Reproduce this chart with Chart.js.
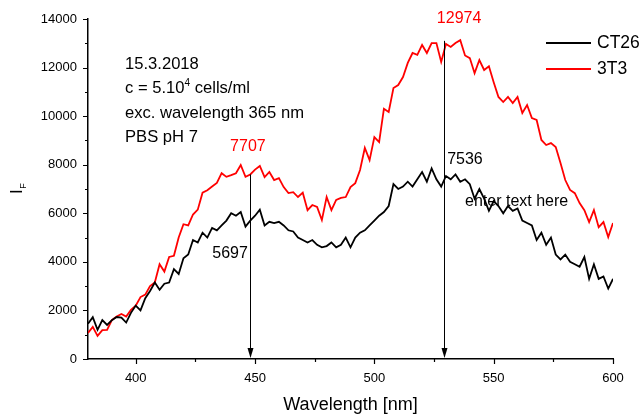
<!DOCTYPE html>
<html>
<head>
<meta charset="utf-8">
<script src="https://cdn.jsdelivr.net/npm/chart.js@4.4.0/dist/chart.umd.min.js"></script>
<style>
  body { margin: 0; background: #fff; }
  #wrap { width: 644px; height: 414px; }
</style>
</head>
<body>
<div id="wrap"><canvas id="chart-fluorescence" width="644" height="414"></canvas></div>
<script>
// wavelength in nm, intensity I_F
var wavelength = [
  380, 382, 384, 386, 388, 390, 392, 394, 396, 398,
  400, 402, 404, 406, 408, 410, 412, 414, 416, 418,
  420, 422, 424, 426, 428, 430, 432, 434, 436, 438,
  440, 442, 444, 446, 448, 450, 452, 454, 456, 458,
  460, 462, 464, 466, 468, 470, 472, 474, 476, 478,
  480, 482, 484, 486, 488, 490, 492, 494, 496, 498,
  500, 502, 504, 506, 508, 510, 512, 514, 516, 518,
  520, 522, 524, 526, 528, 530, 532, 534, 536, 538,
  540, 542, 544, 546, 548, 550, 552, 554, 556, 558,
  560, 562, 564, 566, 568, 570, 572, 574, 576, 578,
  580, 582, 584, 586, 588, 590, 592, 594, 596, 598,
  600
];
var ct26 = [
  1450, 1720, 1200, 1600, 1400, 1600, 1730, 1700, 1500, 1900,
  2200, 2000, 2500, 2800, 3150, 2850, 3100, 3150, 3700, 3500,
  4150, 4300, 4900, 4800, 5200, 5000, 5400, 5300, 5500, 5700,
  6000, 5900, 6050, 5450, 5697, 5900, 6150, 5500, 5650, 5600,
  5650, 5500, 5300, 5250, 5000, 4900, 4800, 4900, 4700, 4600,
  4650, 4800, 4600, 4700, 5000, 4600, 5000, 5200, 5300, 5500,
  5700, 5900, 6050, 6300, 7200, 7000, 7100, 7300, 7100, 7400,
  7700, 7300, 7850, 7400, 7100, 7536, 7400, 7600, 7300, 7400,
  7200, 6600, 7000, 6600, 6100, 6500, 6300, 6000, 6300, 6100,
  6200, 5700, 5600, 5500, 4900, 5200, 4700, 5000, 4300, 4100,
  4300, 4000, 3900, 3800, 4200, 3300, 3900, 3300, 3400, 2900,
  3300
];
var t3 = [
  1070, 1320, 950, 1190, 1200, 1600, 1750, 1850, 1750, 2020,
  2200, 2550, 2650, 3000, 3150, 3900, 3600, 4200, 4250, 5000,
  5550, 5500, 5950, 6150, 6850, 6950, 7100, 7250, 7650, 7500,
  7570, 7650, 7990, 7500, 7600, 7800, 7950, 7490, 7700, 7370,
  7450, 7080, 6830, 6870, 6670, 6850, 6130, 6340, 6260, 5720,
  6670, 6130, 6550, 6630, 6670, 7080, 7240, 7780, 8690, 8190,
  9140, 8930, 10300, 10170, 11160, 11280, 11610, 12190, 12600, 12520,
  12930, 12600, 13010, 13010, 12230, 12974, 12850, 13010, 13130, 12500,
  12390, 11770, 12310, 11900, 12050, 11400, 10790, 10580, 10790, 10540,
  10790, 10130, 10460, 9920, 9840, 9020, 8810, 8890, 8730, 8070,
  7370, 6960, 6830, 6420, 6130, 5640, 6130, 5430, 5640, 5020,
  5600
];

var xMajorTicks = [400, 450, 500, 550, 600];
var xMinorTicks = [425, 475, 525, 575];
var yMajorTicks = [0, 2000, 4000, 6000, 8000, 10000, 12000, 14000];
var yMinorTicks = [1000, 3000, 5000, 7000, 9000, 11000, 13000];

// peak markers: wavelength of arrow and value where it starts
var peakWavelength = [448, 529];
var peakStart = [7600, 13100];

var infoLines = ["15.3.2018", "c = 5.10|4| cells/ml", "exc. wavelength 365 nm", "PBS pH 7"];

var FONT = "'Liberation Sans', Arial, sans-serif";

function toPoints(xs, ys) {
  return xs.map(function (x, i) {
    return { x: x, y: ys[i] };
  });
}

var extras = {
  id: "extras",
  afterDraw: function (chart) {
    var c = chart.ctx;
    var sx = chart.scales.x;
    var sy = chart.scales.y;
    var area = chart.chartArea;
    c.save();

    // tick marks, pointing out
    c.strokeStyle = "#000";
    c.lineWidth = 1.2;
    c.beginPath();
    xMajorTicks.forEach(function (v) {
      var px = Math.round(sx.getPixelForValue(v)) + 0.5;
      c.moveTo(px, area.bottom);
      c.lineTo(px, area.bottom + 5);
    });
    xMinorTicks.forEach(function (v) {
      var px = Math.round(sx.getPixelForValue(v)) + 0.5;
      c.moveTo(px, area.bottom);
      c.lineTo(px, area.bottom + 3);
    });
    yMajorTicks.forEach(function (v) {
      var py = Math.round(sy.getPixelForValue(v)) + 0.5;
      c.moveTo(area.left, py);
      c.lineTo(area.left - 5, py);
    });
    yMinorTicks.forEach(function (v) {
      var py = Math.round(sy.getPixelForValue(v)) + 0.5;
      c.moveTo(area.left, py);
      c.lineTo(area.left - 3, py);
    });
    c.stroke();

    // arrows down to the axis
    c.lineWidth = 1;
    c.fillStyle = "#000";
    peakWavelength.forEach(function (w, i) {
      var px = Math.round(sx.getPixelForValue(w)) + 0.5;
      var top = sy.getPixelForValue(peakStart[i]);
      var tip = sy.getPixelForValue(0) - 1;
      c.beginPath();
      c.moveTo(px, top);
      c.lineTo(px, tip - 8);
      c.stroke();
      c.beginPath();
      c.moveTo(px - 3, tip - 10);
      c.lineTo(px + 3, tip - 10);
      c.lineTo(px, tip);
      c.closePath();
      c.fill();
    });

    // peak value labels
    c.font = "16px " + FONT;
    c.textBaseline = "middle";
    c.fillStyle = "#ff0000";
    c.textAlign = "center";
    c.fillText("7707", sx.getPixelForValue(447), sy.getPixelForValue(8730));
    c.fillText("12974", sx.getPixelForValue(535.5), sy.getPixelForValue(14000));
    c.fillStyle = "#000";
    c.textAlign = "left";
    c.fillText("7536", sx.getPixelForValue(530.5), sy.getPixelForValue(8230));
    c.fillText("enter text here", sx.getPixelForValue(538), sy.getPixelForValue(6500));
    c.textAlign = "right";
    c.fillText("5697", sx.getPixelForValue(447), sy.getPixelForValue(4320));

    // info block
    c.textAlign = "left";
    var ix = 125;
    infoLines.forEach(function (line, i) {
      var iy = 64 + i * 24.5;
      var parts = line.split("|");
      var cx = ix;
      parts.forEach(function (p, k) {
        if (k % 2 === 1) {
          c.font = "10px " + FONT;
          c.fillText(p, cx, iy - 5);
        } else {
          c.font = "16.6px " + FONT;
          c.fillText(p, cx, iy);
        }
        cx += c.measureText(p).width;
      });
    });

    // legend
    c.font = "17.5px " + FONT;
    chart.data.datasets.forEach(function (ds, i) {
      var ly = 43 + i * 26;
      c.strokeStyle = ds.borderColor;
      c.lineWidth = 2;
      c.beginPath();
      c.moveTo(546, ly);
      c.lineTo(591, ly);
      c.stroke();
      c.fillStyle = "#000";
      c.fillText(ds.label, 597, ly);
    });

    // y title I with subscript F
    c.translate(22, 194);
    c.rotate(-Math.PI / 2);
    c.textBaseline = "alphabetic";
    c.font = "17px " + FONT;
    c.fillText("I", 0, 0);
    var w = c.measureText("I").width;
    c.font = "9px " + FONT;
    c.fillText("F", w + 0.5, 4);
    c.restore();
  },
};

var ctx = document.getElementById("chart-fluorescence").getContext("2d");

new Chart(ctx, {
  type: "line",
  data: {
    datasets: [
      {
        label: "CT26",
        data: toPoints(wavelength, ct26),
        borderColor: "#000000",
        borderWidth: 1.8,
        pointRadius: 0,
        tension: 0,
      },
      {
        label: "3T3",
        data: toPoints(wavelength, t3),
        borderColor: "#ff0000",
        borderWidth: 1.8,
        pointRadius: 0,
        tension: 0,
      },
    ],
  },
  options: {
    responsive: false,
    animation: false,
    layout: {
      padding: { top: 19, right: 31, left: 0, bottom: 0 },
    },
    plugins: {
      legend: { display: false },
      tooltip: { enabled: false },
    },
    scales: {
      x: {
        type: "linear",
        min: 380,
        max: 600,
        afterBuildTicks: function (scale) {
          scale.ticks = xMajorTicks.map(function (v) {
            return { value: v };
          });
        },
        afterFit: function (scale) {
          scale.height = 55;
        },
        grid: { display: false, drawTicks: false },
        border: { display: true, color: "#000", width: 1.5 },
        ticks: {
          padding: 12,
          color: "#000",
          font: { size: 13, family: FONT },
          callback: function (value) {
            return String(value);
          },
        },
        title: {
          display: true,
          text: "Wavelength [nm]",
          color: "#000",
          padding: 0,
          font: { size: 18, family: FONT, lineHeight: 1 },
        },
      },
      y: {
        min: 0,
        max: 14000,
        afterBuildTicks: function (scale) {
          scale.ticks = yMajorTicks.map(function (v) {
            return { value: v };
          });
        },
        afterFit: function (scale) {
          scale.width = 88;
        },
        grid: { display: false, drawTicks: false },
        border: { display: true, color: "#000", width: 1.5 },
        ticks: {
          padding: 11,
          color: "#000",
          font: { size: 13, family: FONT },
          callback: function (value) {
            return String(value);
          },
        },
      },
    },
  },
  plugins: [extras],
});
</script>
</body>
</html>
